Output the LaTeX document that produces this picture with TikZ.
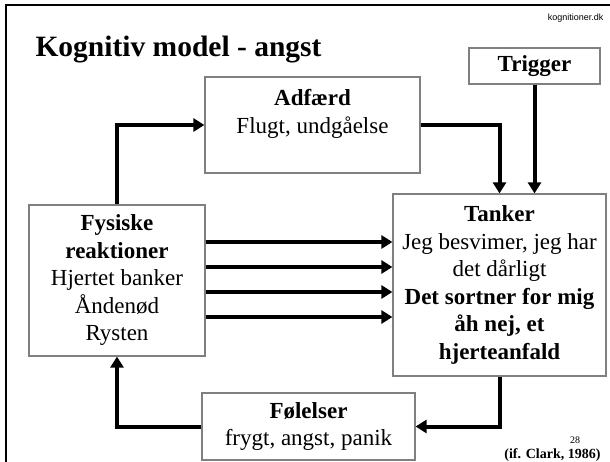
\documentclass[tikz,border=0pt]{standalone}
\usepackage{fontspec}
\setmainfont{Liberation Serif}
\setsansfont{Liberation Sans}
\usetikzlibrary{arrows.meta,positioning,calc}

\tikzset{
  box/.style={draw=black!50,line width=1.2pt,fill=white,align=center,inner sep=0pt,
    font=\fontsize{23}{27.5}\selectfont},
  conn/.style={line width=4pt,-{Triangle[length=11pt,width=13pt]}},
  thinconn/.style={conn,line width=3.4pt}
}

\begin{document}
\begin{tikzpicture}[x=1pt,y=-1pt]
\useasboundingbox (0,0) rectangle (610,462);
\draw[line width=2pt] (6,462) -- (6,5) -- (610,5);
\node[anchor=base west,font=\fontsize{29.5}{34}\selectfont\bfseries] (title) at (32,57) {Kognitiv model - angst};
\node[anchor=base east,font=\sffamily\fontsize{9}{10}\selectfont] (web) at (607,21) {kognitioner.dk};

\node[box,minimum width=131pt,minimum height=36pt] (trig) at (534.5,66) {\textbf{Trigger}};
\node[box,minimum width=215pt,minimum height=96pt] (adf) at (312.5,125) {\textbf{Adfærd}\\Flugt, undgåelse\\\mbox{}};
\node[box,minimum width=176pt,minimum height=151pt] (fys) at (117,280.5) {\textbf{Fysiske}\\\textbf{reaktioner}\\Hjertet banker\\Åndenød\\Rysten};
\node[box,minimum width=213pt,minimum height=182pt] (tank) at (499.5,285) {\textbf{Tanker}\\Jeg besvimer, jeg har\\det dårligt\\\textbf{Det sortner for mig}\\\textbf{åh nej, et}\\\textbf{hjerteanfald}};
\node[box,minimum width=213pt,minimum height=67pt] (fel) at (308.5,426.5) {\textbf{Følelser}\\frygt, angst, panik};

\draw[conn] (fys.north) |- (adf.west);
\draw[conn] (adf.east) -| (tank.north);
\draw[conn] (trig.south) -- (trig.south |- tank.north);
\foreach \y in {242,267,292,317}
  \draw[thinconn] (fys.east |- 0,\y) -- (tank.west |- 0,\y);
\draw[conn] (tank.south) |- (fel.east);
\draw[conn] (fel.west) -| (fys.south);

\node[anchor=base east,font=\fontsize{14}{16}\selectfont\bfseries] (src) at (604,458) {(if. Clark, 1986)};
\node[anchor=south,inner sep=0pt,font=\fontsize{10}{11}\selectfont] (num) at (575,444) {28};
\end{tikzpicture}
\end{document}
